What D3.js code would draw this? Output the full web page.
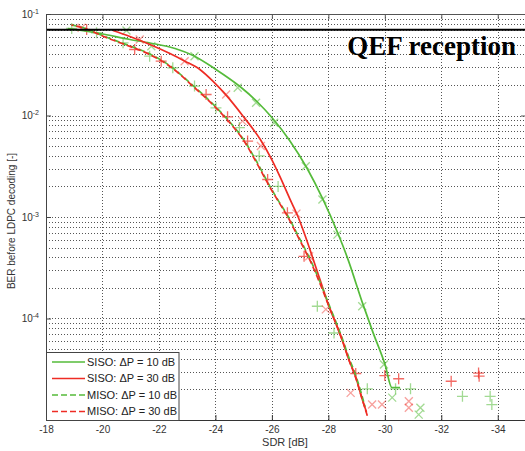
<!DOCTYPE html>
<html>
<head>
<meta charset="utf-8">
<script src="https://cdn.jsdelivr.net/npm/d3@7"></script>
<style>
    body { margin: 0; background: #fff; }
    #chart-area { width: 525px; height: 451px; overflow: hidden; }
</style>
</head>
<body>
<div id="chart-area"></div>
<script>

// axis ticks
const sdrTicks = [-18, -20, -22, -24, -26, -28, -30, -32, -34];
const berTicks = [1e-1, 1e-2, 1e-3, 1e-4];
const qefBer = 0.07;

// SISO dP = 10 dB (solid green)
const siso10Sdr = [-18.78, -19.91, -20.97, -21.68, -22.57, -23.21, -24.02, -24.87, -25.47, -26.0, -26.64, -27.24, -27.81, -28.34, -28.66, -29.23, -29.58, -30.01, -30.25, -30.54];
const siso10Ber = [0.072, 0.0642, 0.0561, 0.0518, 0.0457, 0.039, 0.0284, 0.0193, 0.01374, 0.00955, 0.00561, 0.00304, 0.00149, 0.000687, 0.000407, 0.000137, 7.3e-5, 3.5e-5, 2.09e-5, 2.09e-5];

// SISO dP = 30 dB (solid red)
const siso30Sdr = [-20.37, -20.97, -21.68, -22.39, -22.92, -23.45, -23.91, -24.41, -24.98, -25.58, -26.0, -26.29, -26.64, -26.93, -27.17, -27.46, -27.78, -28.02, -28.26, -28.49, -28.73, -28.97, -29.2, -29.35];
const siso30Ber = [0.0687, 0.06, 0.0501, 0.0408, 0.0343, 0.0284, 0.0218, 0.0155, 0.00984, 0.00586, 0.00365, 0.00248, 0.0015, 0.001, 0.000665, 0.000386, 0.000209, 0.000132, 9.0e-5, 6.1e-5, 3.9e-5, 2.65e-5, 1.6e-5, 1.2e-5];

// MISO dP = 10 dB (dashed green)
const miso10Sdr = [-18.9, -19.5, -20.02, -20.8, -21.67, -22.38, -23.2, -24.02, -24.61, -24.96, -25.49, -25.91, -26.26, -26.55, -26.91, -27.44, -27.79, -28.02, -28.26, -28.49, -28.73, -28.97, -29.2, -29.3];
const miso10Ber = [0.078, 0.0705, 0.061, 0.0505, 0.0405, 0.031, 0.0198, 0.0121, 0.008, 0.006, 0.0034, 0.00205, 0.0014, 0.00104, 0.00067, 0.00034, 0.0002, 0.000137, 9.4e-5, 6.4e-5, 4.1e-5, 2.75e-5, 1.7e-5, 1.35e-5];

// MISO dP = 30 dB (dashed red)
const miso30Sdr = [-18.9, -19.5, -20.02, -20.8, -21.67, -22.38, -23.2, -24.02, -24.61, -24.96, -25.49, -25.91, -26.26, -26.55, -26.91, -27.44, -27.79, -28.02, -28.26, -28.49, -28.73, -28.97, -29.2, -29.38];
const miso30Ber = [0.078, 0.07, 0.0604, 0.05, 0.0399, 0.0306, 0.0195, 0.0119, 0.00785, 0.0059, 0.0033, 0.00201, 0.00138, 0.00102, 0.00065, 0.00033, 0.000193, 0.000132, 9.1e-5, 6.2e-5, 3.9e-5, 2.6e-5, 1.6e-5, 1.1e-5];

// simulated points
const greenPlusSdr = [-18.91, -19.79, -20.73, -21.67, -22.49, -23.26, -24.02, -24.85, -25.55, -26.22, -27.61, -28.2, -29.38, -30.38, -30.91, -32.75, -33.73, -33.79];
const greenPlusBer = [0.072, 0.0653, 0.052, 0.0384, 0.0295, 0.0195, 0.0119, 0.0076, 0.004, 0.002, 0.000132, 7.2e-5, 2.03e-5, 2.03e-5, 2.03e-5, 1.71e-5, 1.71e-5, 1.42e-5];
const redPlusSdr = [-19.44, -21.14, -22.08, -23.67, -24.43, -25.14, -25.85, -26.55, -27.14, -28.97, -30.0, -30.49, -32.35, -33.32, -33.34];
const redPlusBer = [0.0703, 0.0447, 0.0343, 0.0161, 0.0097, 0.0056, 0.00234, 0.0011, 0.00041, 2.87e-5, 2.74e-5, 2.55e-5, 2.41e-5, 2.9e-5, 2.7e-5];
const greenXSdr = [-20.85, -21.73, -23.26, -24.79, -25.44, -26.08, -27.2, -27.79, -28.32, -29.2, -29.97, -30.26, -31.26, -31.2];
const greenXBer = [0.0687, 0.0482, 0.0384, 0.01875, 0.01334, 0.00848, 0.00316, 0.00149, 0.00067, 0.000132, 3.52e-5, 1.66e-5, 1.32e-5, 1.13e-5];
const redXSdr = [-19.26, -21.32, -22.91, -24.38, -24.96, -25.61, -26.87, -27.32, -27.91, -28.79, -29.55, -29.9, -30.85, -30.85];
const redXBer = [0.0731, 0.0561, 0.0343, 0.0161, 0.0088, 0.005, 0.00108, 0.00041, 0.000123, 1.85e-5, 1.42e-5, 1.42e-5, 1.53e-5, 1.32e-5];

const legendLabels = ["SISO: \u0394P = 10 dB", "SISO: \u0394P = 30 dB", "MISO: \u0394P = 10 dB", "MISO: \u0394P = 30 dB"];


class BerChart {

    constructor(parentElement) {
        this.parentElement = parentElement;
        this.initVis()
    }

    initVis() {

        let vis = this;

        vis.green = "#55bb3a";
        vis.red = "#ee2c24";
        vis.left = 46; vis.right = 526; vis.top = 14; vis.bottom = 420;

        vis.svg = d3.select("#" + vis.parentElement).append("svg")
            .attr("width", 525)
            .attr("height", 451);

        vis.x = d3.scaleLinear().domain([-18, -35]).range([vis.left, vis.right]);
        vis.y = d3.scaleLog().domain([1e-5, 1e-1]).range([vis.bottom, vis.top]);

        // grid (dotted)
        let minor = [];
        for (let e = -5; e < -1; e++) {
            for (let m = 1; m < 10; m++) minor.push(m * Math.pow(10, e));
        }
        let grid = vis.svg.append("g")
            .attr("stroke", "#555").attr("stroke-width", 1).attr("stroke-dasharray", "1,2");
        grid.selectAll(".hgrid").data(minor.filter(d => d > 1.01e-5)).enter().append("line")
            .attr("x1", vis.left).attr("x2", vis.right)
            .attr("y1", d => Math.round(vis.y(d)) + 0.5).attr("y2", d => Math.round(vis.y(d)) + 0.5);
        grid.selectAll(".vgrid").data(sdrTicks.slice(1)).enter().append("line")
            .attr("y1", vis.top).attr("y2", vis.bottom)
            .attr("x1", d => Math.round(vis.x(d)) + 0.5).attr("x2", d => Math.round(vis.x(d)) + 0.5);

        vis.svg.append("clipPath").attr("id", "plot-clip")
            .append("rect").attr("x", vis.left).attr("y", vis.top)
            .attr("width", vis.right - vis.left).attr("height", vis.bottom - vis.top);
        vis.plot = vis.svg.append("g").attr("clip-path", "url(#plot-clip)");

        // markers
        let plusPath = "M-5.5,0H5.5M0,-5.5V5.5";
        let crossPath = "M-4,-4L4,4M-4,4L4,-4";
        let markerSets = [
            {sdr: greenPlusSdr, ber: greenPlusBer, path: plusPath, color: vis.green, op: 0.55},
            {sdr: greenXSdr, ber: greenXBer, path: crossPath, color: vis.green, op: 0.55},
            {sdr: redPlusSdr, ber: redPlusBer, path: plusPath, color: vis.red, op: 0.7},
            {sdr: redXSdr, ber: redXBer, path: crossPath, color: vis.red, op: 0.45}
        ];
        markerSets.forEach(m => {
            vis.plot.append("g").selectAll("path").data(d3.zip(m.sdr, m.ber)).enter().append("path")
                .attr("d", m.path)
                .attr("transform", d => `translate(${vis.x(d[0])},${vis.y(d[1])})`)
                .attr("fill", "none")
                .attr("stroke", m.color)
                .attr("stroke-opacity", m.op)
                .attr("stroke-width", 1.3);
        });

        // curves
        let line = d3.line().x(d => vis.x(d[0])).y(d => vis.y(d[1])).curve(d3.curveMonotoneX);
        vis.series = [
            {sdr: siso10Sdr, ber: siso10Ber, color: vis.green, dash: null},
            {sdr: siso30Sdr, ber: siso30Ber, color: vis.red, dash: null},
            {sdr: miso10Sdr, ber: miso10Ber, color: vis.green, dash: "6,3"},
            {sdr: miso30Sdr, ber: miso30Ber, color: vis.red, dash: "6,3"}
        ];
        vis.series.forEach((s, i) => {
            vis.plot.append("path")
                .datum(d3.zip(s.sdr, s.ber))
                .attr("d", line)
                .attr("fill", "none")
                .attr("stroke", s.color)
                .attr("stroke-width", 1.7)
                .attr("stroke-dasharray", s.dash)
                .attr("stroke-dashoffset", i == 3 ? 4 : 0);
        });

        // QEF threshold
        vis.svg.append("line")
            .attr("x1", vis.left).attr("x2", vis.right)
            .attr("y1", vis.y(qefBer)).attr("y2", vis.y(qefBer))
            .attr("stroke", "#000").attr("stroke-width", 2);
        vis.svg.append("text")
            .attr("x", 516).attr("y", 55)
            .attr("text-anchor", "end")
            .style("font-family", "'Liberation Serif', 'Times New Roman', serif")
            .style("font-weight", "bold")
            .style("font-size", "27px")
            .text("QEF reception");

        // axes
        let tickFont = g => g.selectAll("text")
            .style("font-family", "'Liberation Sans', Arial, sans-serif")
            .style("font-size", "10px").attr("fill", "#333");

        vis.svg.append("g").attr("transform", `translate(0,${vis.bottom})`)
            .call(d3.axisBottom(vis.x).tickValues(sdrTicks).tickFormat(d => d)
                .tickSizeInner(-5).tickSizeOuter(0).tickPadding(6))
            .call(tickFont)
            .call(g => g.selectAll("path,line").attr("stroke", "#333"));

        vis.svg.append("g").attr("transform", `translate(0,${vis.top})`)
            .call(d3.axisTop(vis.x).tickValues(sdrTicks).tickFormat("")
                .tickSizeInner(-5).tickSizeOuter(0))
            .call(g => g.selectAll("path,line").attr("stroke", "#555"));

        vis.svg.append("g").attr("transform", `translate(${vis.right},0)`)
            .call(d3.axisRight(vis.y).tickValues(berTicks).tickFormat("")
                .tickSizeInner(-5).tickSizeOuter(0))
            .call(g => g.selectAll("path,line").attr("stroke", "#555"));

        vis.svg.append("g").attr("transform", `translate(${vis.left},0)`)
            .call(d3.axisLeft(vis.y).tickValues(berTicks)
                .tickSizeInner(-5).tickSizeOuter(0).tickPadding(7))
            .call(tickFont)
            .call(g => g.selectAll("path,line").attr("stroke", "#444"))
            .call(g => g.selectAll(".tick text").each(function (d) {
                let t = d3.select(this);
                t.text(null);
                t.append("tspan").text("10");
                t.append("tspan").attr("dy", "-0.6em").style("font-size", "7px")
                    .text(Math.round(Math.log10(d)));
            }));

        // axis titles
        vis.svg.append("text")
            .attr("x", 285).attr("y", 446)
            .attr("text-anchor", "middle")
            .style("font-family", "'Liberation Sans', Arial, sans-serif")
            .style("font-size", "11px").attr("fill", "#333")
            .text("SDR [dB]");
        vis.svg.append("text")
            .attr("transform", "translate(15,221) rotate(-90)")
            .attr("text-anchor", "middle")
            .style("font-family", "'Liberation Sans', Arial, sans-serif")
            .style("font-size", "10px").attr("fill", "#333")
            .text("BER before LDPC decoding [-]");

        // legend
        let legend = vis.svg.append("g");
        legend.append("rect")
            .attr("x", 46.5).attr("y", 352.5).attr("width", 132.5).attr("height", 68)
            .attr("fill", "#fff").attr("stroke", "#444");
        legendLabels.forEach((label, i) => {
            let ly = 362 + i * 16.5;
            legend.append("line")
                .attr("x1", 52).attr("x2", 85).attr("y1", ly).attr("y2", ly)
                .attr("stroke", vis.series[i].color).attr("stroke-width", 1.7)
                .attr("stroke-dasharray", vis.series[i].dash);
            legend.append("text")
                .attr("x", 87).attr("y", ly).attr("dy", "0.35em")
                .style("font-family", "'Liberation Sans', Arial, sans-serif")
                .style("font-size", "11px").attr("fill", "#222")
                .text(label);
        });
    }
}

new BerChart("chart-area");
</script>
</body>
</html>
